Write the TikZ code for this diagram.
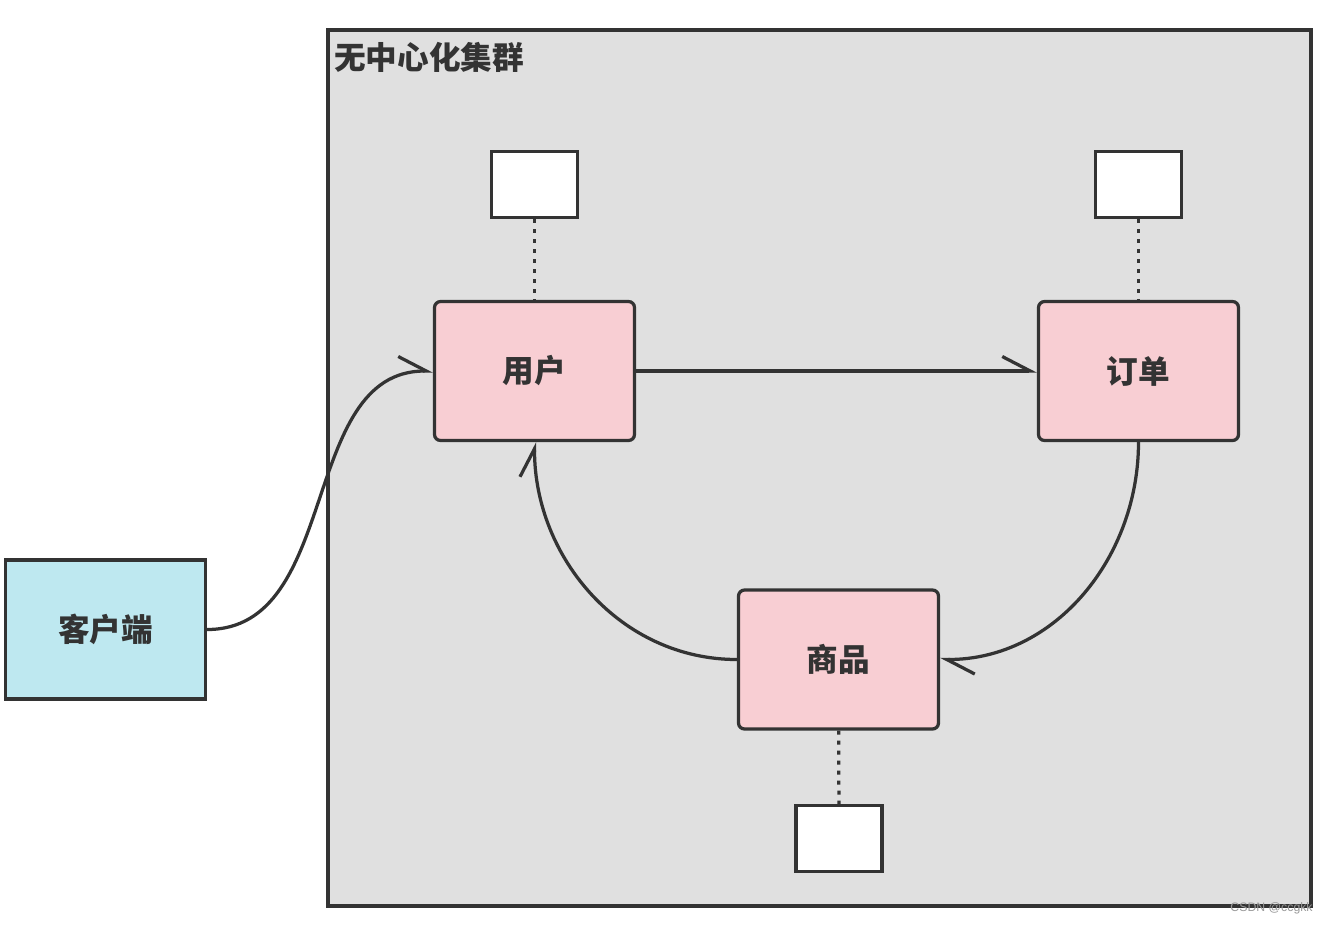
\documentclass[tikz,border=0pt]{standalone}
\usepackage{fontspec}
\usepackage{tikz}
\usetikzlibrary{arrows.meta}
\newfontfamily\cjk{Noto Sans CJK SC}
\newfontfamily\wmfont{Liberation Sans}

\definecolor{linegray}{RGB}{51,51,51}
\definecolor{clustergray}{RGB}{224,224,224}
\definecolor{servicepink}{RGB}{248,206,211}
\definecolor{clientcyan}{RGB}{190,232,240}

\tikzset{
  service/.style={draw=linegray, line width=0.065cm, fill=servicepink, rounded corners=0.12cm,
    minimum width=4.0cm, minimum height=2.78cm, text=linegray,
    font=\cjk\bfseries\fontsize{18pt}{20pt}\selectfont},
  client/.style={service, fill=clientcyan, rounded corners=0pt},
  store/.style={draw=linegray, line width=0.065cm, fill=white, minimum width=1.72cm, minimum height=1.32cm},
  flow/.style={draw=linegray, line width=0.065cm, -{Straight Barb[left, length=0.56cm, width=0.58cm, line width=0.065cm]}},
  link/.style={draw=linegray, line width=0.065cm, dash pattern=on 0.08cm off 0.12cm}
}

\begin{document}
\begin{tikzpicture}[x=0.02cm, y=-0.02cm]
      \useasboundingbox (0,0) rectangle (1328,924);
      % cluster
      \draw [line width=0.065cm, draw=linegray, fill=clustergray] (328,30) rectangle (1311,906);
      \node (title) [anchor=west, text=linegray, font=\cjk\bfseries\fontsize{18pt}{20pt}\selectfont, inner sep=0pt] at (334,57) {无中心化集群};
      % services
      \node (user)  [service] at (534.5,371) {用户};
      \node (order) [service] at (1138.5,371) {订单};
      \node (goods) [service] at (838.5,659.5) {商品};
      \node (client) [client] at (105.5,629.5) {客户端};
      % stores
      \node (userdb)  [store] at (534.5,184.5) {};
      \node (orderdb) [store] at (1138.5,184.5) {};
      \node (goodsdb) [store] at (839,838.5) {};
      \draw [link] (userdb) -- (user);
      \draw [link] (orderdb) -- (order);
      \draw [link] (goods) -- (goodsdb);
      % calls
      \draw [flow] (client.east) to [out=0, in=180] (user.west);
      \draw [flow] (user.east) -- (order.west);
      \draw [flow] (order.south) to [out=-90, in=0] (goods.east);
      \draw [flow] (goods.west) to [out=180, in=-90] (user.south);
      \node (mark) [anchor=east, text=gray!80, font=\wmfont\fontsize{7pt}{8pt}\selectfont, inner sep=0pt] at (1313,908) {CSDN @ccgkk};
\end{tikzpicture}
\end{document}
